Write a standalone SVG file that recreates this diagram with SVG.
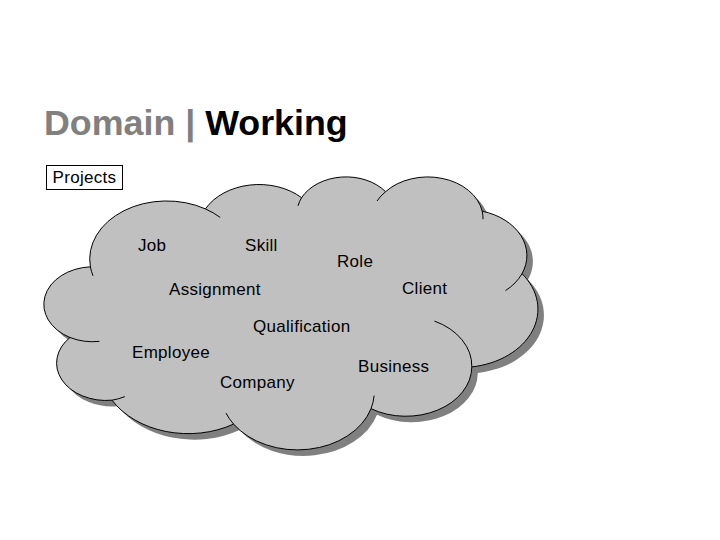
<svg xmlns="http://www.w3.org/2000/svg" width="720" height="540" viewBox="0 0 720 540">
  <style>
    .title { font-family: "Liberation Sans", Arial, sans-serif; font-size: 35.8px; font-weight: bold; }
    .lbl { font-family: "Liberation Sans", Arial, sans-serif; font-size: 17px; fill: #000; letter-spacing: 0.3px; }
    .cloud { fill: #c0c0c0; stroke: #000; stroke-width: 1; }
    .shadow { fill: #808080; stroke: none; }
    .inner { fill: none; stroke: #000; stroke-width: 1; }
  </style>
  <defs>
    <path id="cloudPath" d="M90.4,266.8 A76.9,58.1 0 0 1 205.4,208.9 A60.7,45.9 0 0 1 301.6,197.7 A49.7,37.6 0 0 1 385.6,191.7 A55.3,41.7 0 0 1 482.2,211.2 A60.7,46 0 0 1 522,273.7 A77.1,58.3 0 0 1 471.8,366.9 A65.9,49.7 0 0 1 371,408.7 A76.9,58.2 0 0 1 233.6,424.1 A87.9,66.6 0 0 1 112,400.2 A49.6,37.4 0 0 1 70,337.5 A49.5,37.6 0 0 1 90.4,266.8 Z"/>
  </defs>
  <rect width="720" height="540" fill="#fff"/>

  <g id="title">
    <text class="title" x="44" y="135"><tspan fill="#808080">Domain | </tspan><tspan fill="#000">Working</tspan></text>
  </g>

  <g id="projects">
    <rect x="46.5" y="165.5" width="76" height="24" fill="#fff" stroke="#000" stroke-width="1"/>
    <text class="lbl" x="84.5" y="183" text-anchor="middle">Projects</text>
  </g>

  <g id="cloud">
    <use href="#cloudPath" class="shadow" transform="translate(6,6)"/>
    <use href="#cloudPath" class="cloud"/>
    <path class="inner" d="M99.4,341.4 A49.5,37.6 0 0 1 70,337.5 M124.9,396.6 A49.6,37.4 0 0 1 112,400.2 M233.6,424.1 A76.9,58.2 0 0 1 226,413.1 M374.1,395.6 A76.9,58.2 0 0 1 371,408.7 M434.5,321.1 A65.9,49.7 0 0 1 471.8,366.9 M522,273.7 A60.7,46 0 0 1 505.5,290.6 M482.2,211.2 A55.3,41.7 0 0 1 483,219.2 M377,201 A55.3,41.7 0 0 1 385.6,191.7 M298,205.8 A49.7,37.6 0 0 1 301.6,197.7 M205.4,208.9 A76.9,58.1 0 0 1 220.2,217.4 M93,275.8 A76.9,58.1 0 0 1 90.4,266.8"/>
  </g>

  <g id="job"><text class="lbl" x="138" y="251">Job</text></g>
  <g id="skill"><text class="lbl" x="245" y="251">Skill</text></g>
  <g id="role"><text class="lbl" x="337" y="267">Role</text></g>
  <g id="assignment"><text class="lbl" x="169" y="295">Assignment</text></g>
  <g id="client"><text class="lbl" x="402" y="294">Client</text></g>
  <g id="qualification"><text class="lbl" x="253" y="332">Qualification</text></g>
  <g id="employee"><text class="lbl" x="132" y="358">Employee</text></g>
  <g id="business"><text class="lbl" x="358" y="372">Business</text></g>
  <g id="company"><text class="lbl" x="220" y="388">Company</text></g>
</svg>
